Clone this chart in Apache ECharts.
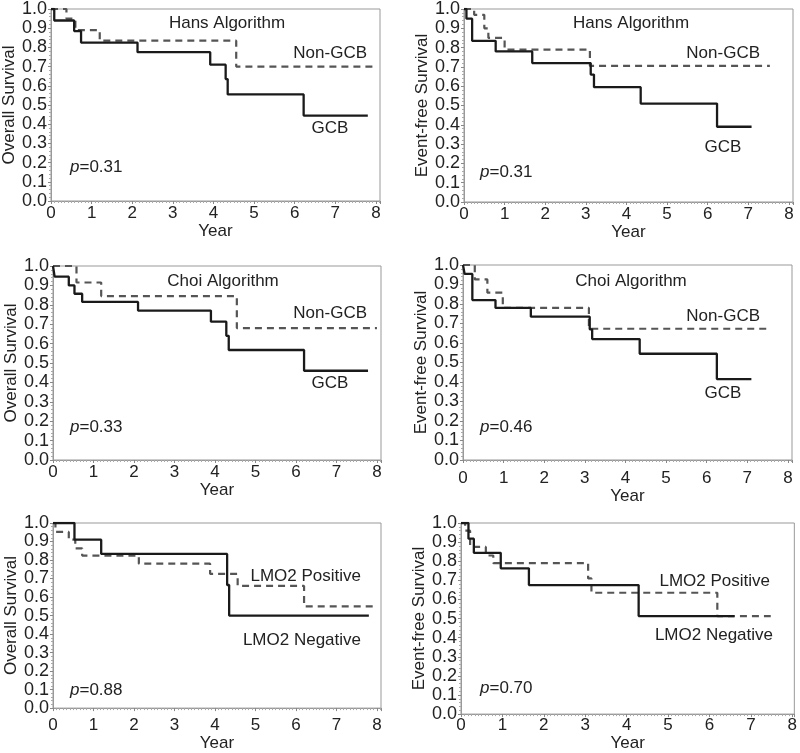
<!DOCTYPE html>
<html>
<head>
<meta charset="utf-8">
<script src="https://cdn.jsdelivr.net/npm/echarts@6/dist/echarts.min.js"></script>
<style>
  html, body { margin: 0; padding: 0; background: #fff; }
  #chart { width: 800px; height: 753px; }
</style>
</head>
<body>
<div id="chart"></div>
<script>
// survival steps: [year, survival from that year on]
var hansOsGcb = [[0, 1], [0.08, 0.94], [0.57, 0.885], [0.74, 0.825], [2.13, 0.775], [3.92, 0.71], [4.3, 0.635], [4.35, 0.555], [6.22, 0.445], [7.8, 0.445]];
var hansOsNon = [[0, 1], [0.38, 0.95], [0.6, 0.89], [1.2, 0.835], [4.56, 0.7], [8.0, 0.7]];
var hansEfsGcb = [[0, 1], [0.06, 0.95], [0.2, 0.835], [0.78, 0.78], [1.68, 0.72], [3.12, 0.66], [3.2, 0.595], [4.35, 0.51], [6.23, 0.39], [7.08, 0.39]];
var hansEfsNon = [[0, 1], [0.25, 0.97], [0.5, 0.9], [0.6, 0.85], [1.0, 0.79], [3.1, 0.705], [7.53, 0.705]];
var choiOsGcb = [[0, 1], [0.04, 0.945], [0.39, 0.9], [0.53, 0.857], [0.72, 0.815], [2.1, 0.77], [3.9, 0.713], [4.28, 0.64], [4.34, 0.567], [6.2, 0.46], [7.78, 0.46]];
var choiOsNon = [[0, 1], [0.58, 0.915], [1.19, 0.845], [4.54, 0.68], [8.0, 0.68]];
var choiEfsGcb = [[0, 1], [0.04, 0.954], [0.23, 0.82], [0.8, 0.78], [1.67, 0.735], [3.12, 0.67], [3.18, 0.62], [4.35, 0.545], [6.25, 0.415], [7.1, 0.415]];
var choiEfsNon = [[0, 1], [0.29, 0.926], [0.6, 0.858], [0.98, 0.78], [3.1, 0.673], [7.55, 0.673]];
var lmoOsNeg = [[0, 1], [0.53, 0.91], [1.19, 0.833], [4.3, 0.665], [4.35, 0.5], [7.8, 0.5]];
var lmoOsPos = [[0, 1], [0.06, 0.952], [0.39, 0.91], [0.55, 0.863], [0.72, 0.824], [2.12, 0.78], [3.88, 0.725], [4.56, 0.66], [6.2, 0.55], [8.0, 0.55]];
var lmoEfsNeg = [[0, 1], [0.18, 0.918], [0.31, 0.844], [0.96, 0.763], [1.64, 0.675], [4.29, 0.513], [6.6, 0.513]];
var lmoEfsPos = [[0, 1], [0.1, 0.96], [0.22, 0.875], [0.6, 0.83], [0.78, 0.79], [3.07, 0.71], [3.15, 0.635], [6.19, 0.513], [7.48, 0.513]];

var FONT = "'Liberation Sans', Arial, sans-serif";

var panels = [
  { grid: { left: 51, top: 9, width: 329, height: 192 }, xMax: 8.1, yName: 'Overall Survival', solid: hansOsGcb, dashed: hansOsNon, lblGap: 4, xGap: 15, yGap: 28 },
  { grid: { left: 464, top: 9, width: 329, height: 193 }, xMax: 8.1, yName: 'Event-free Survival', solid: hansEfsGcb, dashed: hansEfsNon, lblGap: 4, xGap: 15, yGap: 26 },
  { grid: { left: 53, top: 266, width: 328, height: 194 }, xMax: 8.1, yName: 'Overall Survival', solid: choiOsGcb, dashed: choiOsNon, lblGap: 4, xGap: 16, yGap: 30 },
  { grid: { left: 463, top: 265, width: 329, height: 195 }, xMax: 8.1, yName: 'Event-free Survival', solid: choiEfsGcb, dashed: choiEfsNon, lblGap: 10, xGap: 21, yGap: 28 },
  { grid: { left: 53, top: 523, width: 328, height: 191 }, xMax: 8.1, yName: 'Overall Survival', solid: lmoOsNeg, dashed: lmoOsPos, lblGap: 9, xGap: 23, yGap: 31 },
  { grid: { left: 461, top: 523, width: 336, height: 195 }, xMax: 8.05, yName: 'Event-free Survival', solid: lmoEfsNeg, dashed: lmoEfsPos, lblGap: 3, xGap: 15, yGap: 30 }
];

// annotations inside panels
var notes = [
  { text: 'Hans Algorithm', x: 227, y: 23, align: 'center' },
  { text: 'Non-GCB', x: 367, y: 53, align: 'right' },
  { text: 'GCB', x: 330, y: 128, align: 'center' },
  { text: '{i|p}=0.31', x: 70, y: 167, align: 'left' },
  { text: 'Hans Algorithm', x: 631, y: 23, align: 'center' },
  { text: 'Non-GCB', x: 760, y: 53, align: 'right' },
  { text: 'GCB', x: 723, y: 147, align: 'center' },
  { text: '{i|p}=0.31', x: 480, y: 172, align: 'left' },
  { text: 'Choi Algorithm', x: 223, y: 281, align: 'center' },
  { text: 'Non-GCB', x: 367, y: 313, align: 'right' },
  { text: 'GCB', x: 330, y: 383, align: 'center' },
  { text: '{i|p}=0.33', x: 70, y: 427, align: 'left' },
  { text: 'Choi Algorithm', x: 631, y: 281, align: 'center' },
  { text: 'Non-GCB', x: 760, y: 316, align: 'right' },
  { text: 'GCB', x: 723, y: 393, align: 'center' },
  { text: '{i|p}=0.46', x: 480, y: 427, align: 'left' },
  { text: 'LMO2 Positive', x: 361, y: 576, align: 'right' },
  { text: 'LMO2 Negative', x: 361, y: 640, align: 'right' },
  { text: '{i|p}=0.88', x: 70, y: 690, align: 'left' },
  { text: 'LMO2 Positive', x: 770, y: 581, align: 'right' },
  { text: 'LMO2 Negative', x: 773, y: 635, align: 'right' },
  { text: '{i|p}=0.70', x: 480, y: 688, align: 'left' }
];

var chart = echarts.init(document.getElementById('chart'));

var grids = [], xAxes = [], yAxes = [], series = [];
panels.forEach(function (p, i) {
  grids.push(Object.assign({ show: true, borderColor: '#999', borderWidth: 1, backgroundColor: 'transparent' }, p.grid));
  xAxes.push({
    type: 'value', gridIndex: i, min: 0, max: p.xMax, interval: 1,
    name: 'Year', nameLocation: 'middle', nameGap: p.xGap,
    nameTextStyle: { fontFamily: FONT, fontSize: 17, color: '#222', verticalAlign: 'top' },
    axisLine: { lineStyle: { color: '#999' } },
    axisTick: { length: 3, lineStyle: { color: '#888' } },
    minorTick: { show: true, splitNumber: 12, length: 2, lineStyle: { color: '#aaa' } },
    splitLine: { show: false },
    axisLabel: { showMaxLabel: false, margin: p.lblGap, fontFamily: FONT, fontSize: 17, color: '#222' }
  });
  yAxes.push({
    type: 'value', gridIndex: i, min: 0, max: 1, interval: 0.1,
    name: p.yName, nameLocation: 'middle', nameGap: p.yGap, nameRotate: 90,
    nameTextStyle: { fontFamily: FONT, fontSize: 17, color: '#222' },
    axisLine: { show: true, lineStyle: { color: '#999' } },
    axisTick: { show: true, length: 3, lineStyle: { color: '#888' } },
    minorTick: { show: true, splitNumber: 5, length: 2, lineStyle: { color: '#aaa' } },
    splitLine: { show: false },
    axisLabel: { margin: 4, fontFamily: FONT, fontSize: 18, color: '#222',
      formatter: function (v) { return v.toFixed(1); } }
  });
  series.push({
    type: 'line', xAxisIndex: i, yAxisIndex: i, step: 'end', data: p.dashed,
    showSymbol: false, silent: true,
    lineStyle: { color: '#555', width: 2.2, type: [7, 5] }
  });
  series.push({
    type: 'line', xAxisIndex: i, yAxisIndex: i, step: 'end', data: p.solid,
    showSymbol: false, silent: true,
    lineStyle: { color: '#1a1a1a', width: 2.3 }
  });
});

var graphics = notes.map(function (n) {
  return {
    type: 'text', x: n.x, y: n.y, silent: true,
    style: {
      text: n.text, align: n.align, verticalAlign: 'middle',
      font: '17px ' + FONT, fill: '#222',
      rich: { i: { fontStyle: 'italic', fontFamily: FONT, fontSize: 17, fill: '#222' } }
    }
  };
});

var option = {
  animation: false,
  backgroundColor: '#fff',
  grid: grids,
  xAxis: xAxes,
  yAxis: yAxes,
  series: series,
  graphic: graphics
};
chart.setOption(option);
</script>
</body>
</html>
